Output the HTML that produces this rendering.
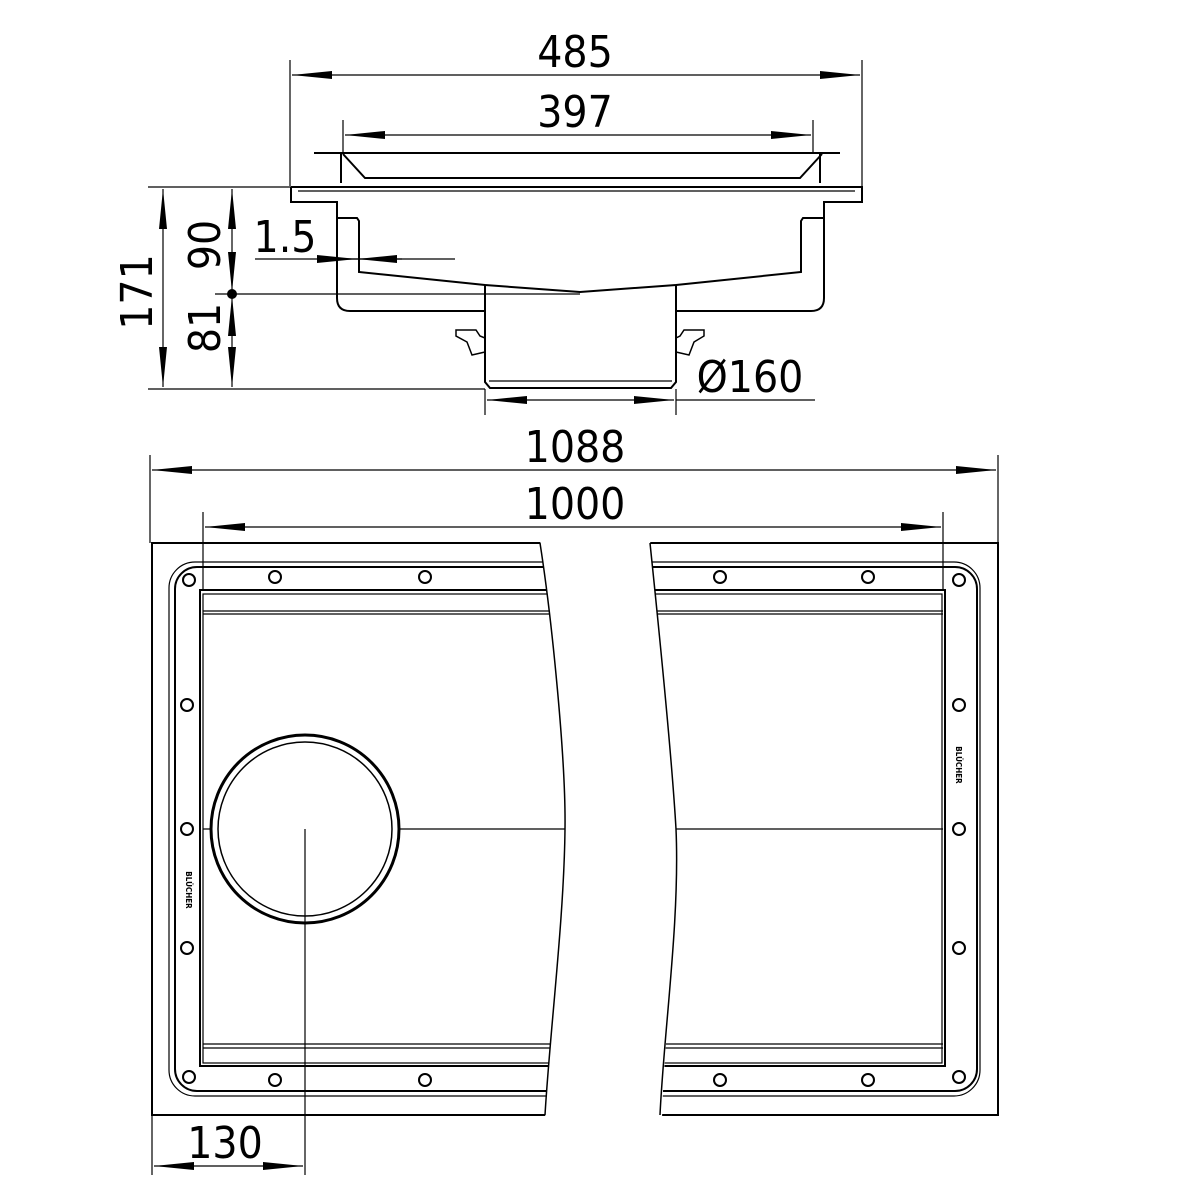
<!DOCTYPE html>
<html><head><meta charset="utf-8"><style>html,body{margin:0;padding:0;background:#fff}svg{display:block}text{font-family:"DejaVu Sans Condensed","Liberation Sans",sans-serif;fill:#000}</style></head>
<body>
<svg width="1181" height="1181" viewBox="0 0 1181 1181" xmlns="http://www.w3.org/2000/svg">
<defs>
<marker id="a" markerWidth="40" markerHeight="12" refX="40" refY="6" orient="auto" markerUnits="userSpaceOnUse"><path d="M0,2 L40,6 L0,10 Z" fill="#000"/></marker>
<marker id="b" markerWidth="40" markerHeight="12" refX="0" refY="6" orient="auto" markerUnits="userSpaceOnUse"><path d="M40,2 L0,6 L40,10 Z" fill="#000"/></marker>
</defs>
<g stroke="#000" fill="none" stroke-width="1.2">
<!-- top dims -->
<line x1="290" y1="60" x2="290" y2="186"/><line x1="862" y1="60" x2="862" y2="186"/>
<line x1="292" y1="75" x2="860" y2="75" marker-start="url(#b)" marker-end="url(#a)"/>
<line x1="343" y1="120" x2="343" y2="152"/><line x1="813" y1="120" x2="813" y2="152"/>
<line x1="345" y1="135" x2="811" y2="135" marker-start="url(#b)" marker-end="url(#a)"/>
<!-- grate -->
<g stroke-width="2">
<path d="M314,153 L840,153"/>
<path d="M343,154 L365,178 L800,178 L822,154"/>
<path d="M341,152 L341,183 M820,152 L820,183"/>
<!-- frame -->
<path d="M291,187 L862,187 L862,202 L824,202 L824,298 Q824,311 811,311 L676,311"/>
<path d="M485,311 L350,311 Q337,311 337,298 L337,202 L291,202 L291,187"/>
<path d="M337,218 L357,218 L359,221 L359,272 L485,285 M676,285 L801,272 L801,221 L803,218 L824,218"/>
<path d="M485,285 L580,292 L676,285"/>
<path d="M485,285 L485,382 L490,388 L671,388 L676,382 L676,285"/>
</g>
<path d="M298,191 L855,191" />
<path d="M489,381 L672,381"/>
<!-- gaskets -->
<g stroke-width="1.5"><path d="M456,330 L476,330 L480,336 L485,338 L485,352 L472,355 L467,342 L456,336 Z"/><path d="M704,330 L684,330 L680,336 L676,338 L676,352 L689,355 L694,342 L704,336 Z"/></g>
<!-- left dims -->
<line x1="148" y1="187" x2="291" y2="187"/><line x1="148" y1="389" x2="485" y2="389"/><line x1="215" y1="294" x2="580" y2="294"/>
<line x1="163" y1="189" x2="163" y2="387" marker-start="url(#b)" marker-end="url(#a)"/>
<line x1="232" y1="189" x2="232" y2="292" marker-start="url(#b)" marker-end="url(#a)"/>
<line x1="232" y1="296" x2="232" y2="387" marker-start="url(#b)" marker-end="url(#a)"/>
<line x1="255" y1="259" x2="455" y2="259"/>
<line x1="317" y1="259" x2="357" y2="259" marker-end="url(#a)"/>
<line x1="402" y1="259" x2="357" y2="259" marker-end="url(#a)"/>
<!-- dia -->
<line x1="485" y1="389" x2="485" y2="415"/><line x1="676" y1="389" x2="676" y2="415"/>
<line x1="487" y1="400" x2="674" y2="400" marker-start="url(#b)" marker-end="url(#a)"/>
<line x1="676" y1="400" x2="815" y2="400"/>
<!-- plan dims -->
<line x1="150" y1="455" x2="150" y2="543"/><line x1="998" y1="455" x2="998" y2="543"/>
<line x1="152" y1="470" x2="996" y2="470" marker-start="url(#b)" marker-end="url(#a)"/>
<line x1="203" y1="512" x2="203" y2="590"/><line x1="943" y1="512" x2="943" y2="590"/>
<line x1="205" y1="527" x2="941" y2="527" marker-start="url(#b)" marker-end="url(#a)"/>
<!-- plan -->
<g stroke-width="2">
<rect x="152" y="543" width="846" height="572"/>
<rect x="175" y="567" width="802" height="524" rx="22"/>
<rect x="200" y="590" width="745" height="476"/>
</g>
<rect x="169" y="562" width="811" height="534" rx="26"/>
<rect x="203" y="594" width="739" height="469"/>
<line x1="203" y1="611" x2="943" y2="611"/><line x1="203" y1="614" x2="943" y2="614"/>
<line x1="203" y1="1044" x2="943" y2="1044"/><line x1="203" y1="1048" x2="943" y2="1048"/>
<line x1="203" y1="829" x2="943" y2="829"/>
<g stroke-width="2">
<circle cx="189" cy="580" r="6"/><circle cx="275" cy="577" r="6"/><circle cx="425" cy="577" r="6"/><circle cx="720" cy="577" r="6"/><circle cx="868" cy="577" r="6"/><circle cx="959" cy="580" r="6"/>
<circle cx="189" cy="1077" r="6"/><circle cx="275" cy="1080" r="6"/><circle cx="425" cy="1080" r="6"/><circle cx="720" cy="1080" r="6"/><circle cx="868" cy="1080" r="6"/><circle cx="959" cy="1077" r="6"/>
<circle cx="187" cy="705" r="6"/><circle cx="187" cy="829" r="6"/><circle cx="187" cy="948" r="6"/>
<circle cx="959" cy="705" r="6"/><circle cx="959" cy="829" r="6"/><circle cx="959" cy="948" r="6"/>
</g>
<!-- gap -->
<path d="M540,540 C552,620 566,760 565,829 C564,920 550,1030 545,1120 L662,1120 C664,1030 680,920 676,829 C672,760 658,620 650,540 Z" fill="#fff" stroke="none"/>
<path d="M540,543 C552,620 566,760 565,829 C564,920 550,1030 545,1115" stroke-width="1.5"/>
<path d="M650,543 C658,620 672,760 676,829 C680,920 664,1030 660,1115" stroke-width="1.5"/>
<!-- outlet -->
<circle cx="305" cy="829" r="94" fill="#fff" stroke-width="3"/>
<circle cx="305" cy="829" r="87" stroke-width="1.5"/>
<line x1="305" y1="829" x2="305" y2="1175"/>
<line x1="152" y1="1115" x2="152" y2="1175"/>
<line x1="154" y1="1166" x2="303" y2="1166" marker-start="url(#b)" marker-end="url(#a)"/>
</g>
<g font-size="44">
<text x="575" y="67" text-anchor="middle">485</text>
<text x="575" y="127" text-anchor="middle">397</text>
<text x="285" y="252" text-anchor="middle">1.5</text>
<text x="750" y="392" text-anchor="middle">Ø160</text>
<text x="575" y="462" text-anchor="middle">1088</text>
<text x="575" y="519" text-anchor="middle">1000</text>
<text x="225" y="1158" text-anchor="middle">130</text>
<text transform="translate(152,292) rotate(-90)" text-anchor="middle">171</text>
<text transform="translate(220,245) rotate(-90)" text-anchor="middle">90</text>
<text transform="translate(220,328) rotate(-90)" text-anchor="middle">81</text>
</g>
<circle cx="232" cy="294" r="5" fill="#000"/>
<text transform="translate(186,890) rotate(90)" font-size="8" font-weight="bold" text-anchor="middle">BLÜCHER</text>
<text transform="translate(956,765) rotate(90)" font-size="8" font-weight="bold" text-anchor="middle">BLÜCHER</text>
</svg>
</body></html>
